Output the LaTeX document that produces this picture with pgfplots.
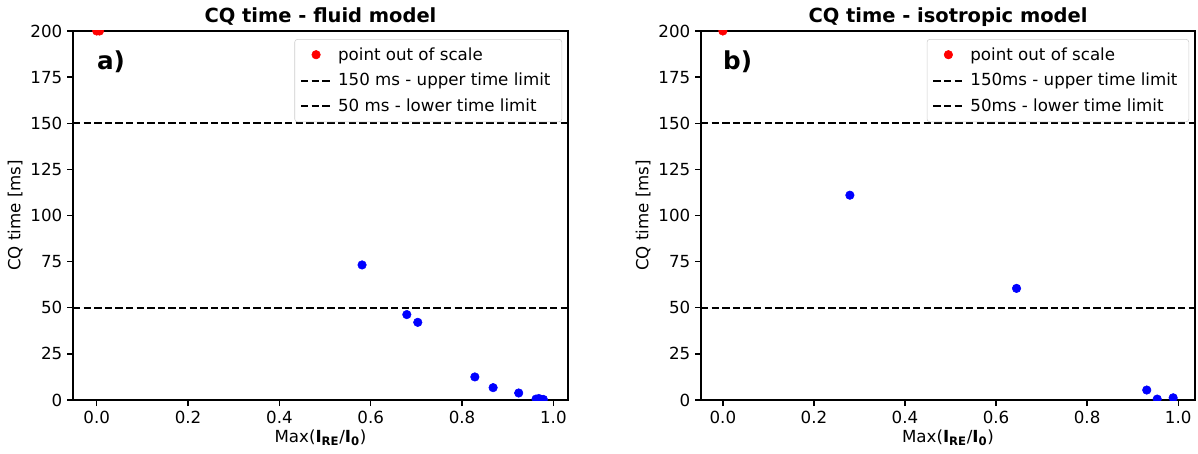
\documentclass[border=0pt]{standalone}
\usepackage{pgfplots}
\pgfplotsset{compat=1.18}
\usepackage{fontspec}
\setmainfont{DejaVu Sans}

\tikzset{lab/.style={anchor=west, inner sep=0pt, font=\bfseries\fontsize{18.5}{22}\selectfont}}

\pgfplotsset{
  cqaxis/.style={
    scale only axis,
    height=276.75pt,
    ymin=0, ymax=200,
    ytick={0,25,...,200},
    xtick={0,0.2,0.4,0.6,0.8,1.0},
    xticklabel style={/pgf/number format/.cd,fixed,fixed zerofill,precision=1},
    /pgf/number format/assume math mode=true,
    tick label style={font=\fontsize{12.5}{15}\selectfont},
    label style={font=\fontsize{12.5}{15}\selectfont},
    title style={font=\bfseries\fontsize{14.6}{17}\selectfont, anchor=base},
    axis line style={line width=1.6pt},
    tick style={line width=1pt, black},
    tick align=outside,
    major tick length=4.5pt,
    xtick pos=bottom, ytick pos=left,
    clip marker paths=true,
    xlabel={Max(\textbf{I}\textsubscript{\textbf{RE}}/\textbf{I}\textsubscript{\textbf{0}})},
    ylabel={CQ time [ms]},
    ylabel style={yshift=-1pt},
    xlabel style={yshift=2pt},
    legend cell align=left,
    legend style={
      at={(0.988,0.978)}, anchor=north east,
      draw=black!20, rounded corners=2pt, fill=white,
      font=\fontsize{12.5}{15}\selectfont,
      inner xsep=4pt, inner ysep=4pt,
      row sep=4.4pt,
      nodes={inner xsep=4.5pt},
    },
    legend image code/.code={\draw[#1] (0pt,0pt) -- (22.5pt,0pt);},
  },
  outpt/.style={only marks, mark=*, color=red, mark size=3.2pt,
    legend image code/.code={\draw[#1] plot coordinates {(11.25pt,0pt)};}},
  pts/.style={only marks, mark=*, color=blue, mark size=3.2pt},
  lim/.style={black, line width=1.5pt, dash pattern=on 5.55pt off 2.4pt},
}

\begin{document}
\begin{tikzpicture}
\path[use as bounding box] (-54.75pt,-39.75pt) rectangle (843.75pt,300pt);

\begin{axis}[cqaxis,
  width=371.25pt,
  xmin=-0.052, xmax=1.032,
  title={CQ time - fluid model},
]
  \addplot[outpt] coordinates {(0.0,200)(0.006,200)};
  \addlegendentry{point out of scale}
  \addplot[lim] coordinates {(-0.052,150)(1.032,150)};
  \addlegendentry{150 ms - upper time limit}
  \addplot[lim] coordinates {(-0.052,50)(1.032,50)};
  \addlegendentry{50 ms - lower time limit}
  \addplot[pts, forget plot] coordinates {
    (0.581,73.2)(0.679,46.3)(0.703,42.1)(0.828,12.5)(0.868,6.7)(0.924,3.8)
    (0.962,0.5)(0.968,0.8)(0.972,0.4)(0.978,0.3)
  };
  \node[lab] at (axis cs:0,183.5) {a)};
\end{axis}

\begin{axis}[cqaxis,
  at={(471pt,0pt)},
  width=370.5pt,
  xmin=-0.048, xmax=1.037,
  title={CQ time - isotropic model},
]
  \addplot[outpt] coordinates {(0.0,200)};
  \addlegendentry{point out of scale}
  \addplot[lim] coordinates {(-0.048,150)(1.037,150)};
  \addlegendentry{150ms - upper time limit}
  \addplot[lim] coordinates {(-0.048,50)(1.037,50)};
  \addlegendentry{50ms - lower time limit}
  \addplot[pts, forget plot] coordinates {
    (0.279,111.0)(0.645,60.5)(0.931,5.4)(0.954,0.5)(0.989,1.2)
  };
  \node[lab] at (axis cs:0,183.5) {b)};
\end{axis}
\end{tikzpicture}
\end{document}
